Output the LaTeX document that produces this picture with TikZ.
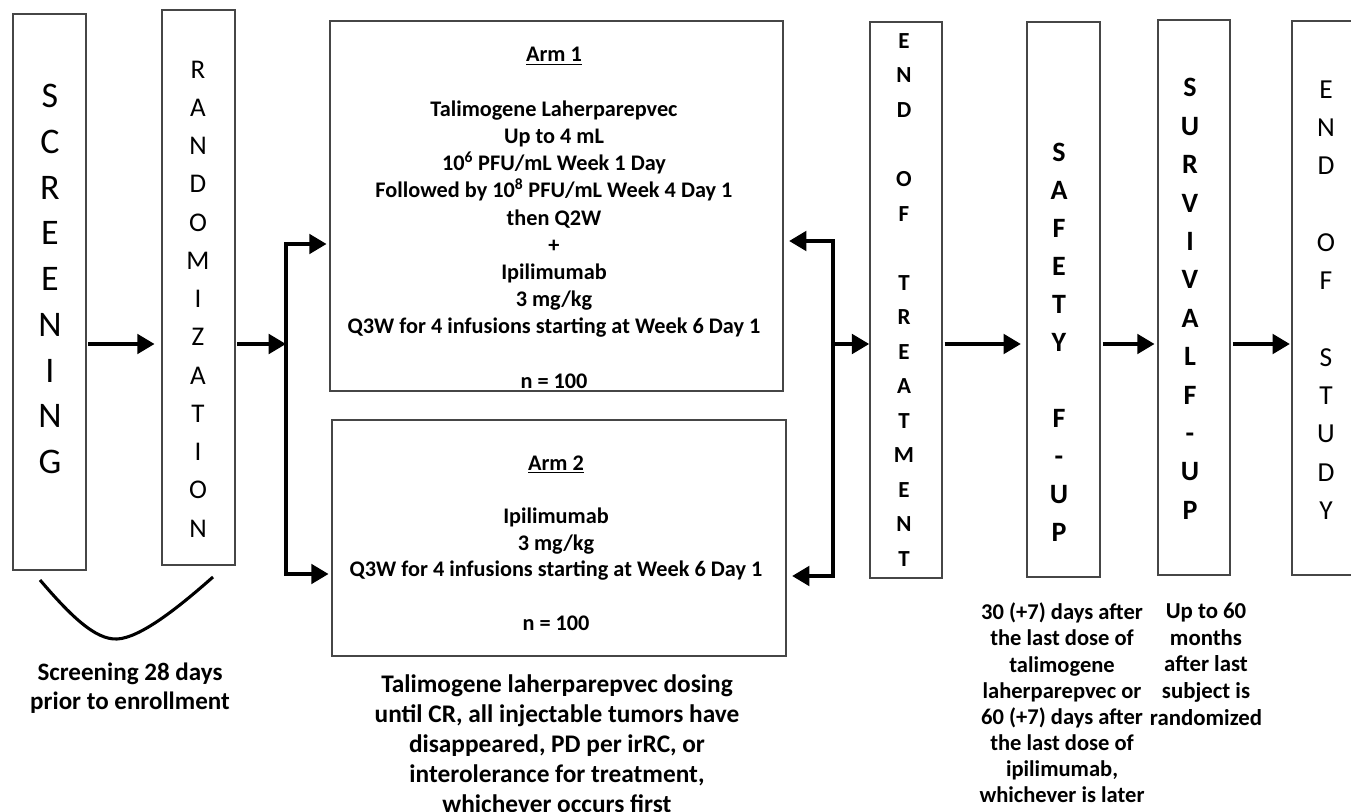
\documentclass[tikz,border=0pt]{standalone}
\usepackage{fontspec}
\setmainfont{Carlito}
\usetikzlibrary{arrows.meta,fit}
\definecolor{boxgray}{RGB}{70,70,70}
\begin{document}
\begin{tikzpicture}[x=0.75pt,y=-0.75pt,
  box/.style={draw=boxgray, line width=1.1pt, inner sep=0pt},
  arr/.style={line width=3pt, line join=miter, -{Triangle[length=13pt,width=14.5pt]}},
  dbl/.style={line width=3pt, line join=miter, {Triangle[length=13pt,width=14.5pt]}-{Triangle[length=13pt,width=14.5pt]}},
  vtxt/.style={align=center, inner sep=0pt},
  btxt/.style={align=center, inner sep=0pt, font=\bfseries}]
\useasboundingbox (0,0) rectangle (1351,812);
\clip (0,0) rectangle (1351,812);
% boxes
\node[box, fit={(13,14) (86,570)}] (scr) {};
\node[box, fit={(162,10) (235,565)}] (rand) {};
\node[box, fit={(330,21) (783,391)}] (arm1) {};
\node[box, fit={(332,420) (786,656)}] (arm2) {};
\node[box, fit={(870,22) (942,578)}] (eot) {};
\node[box, fit={(1027,22) (1100,577)}] (saf) {};
\node[box, fit={(1158,20) (1230,575)}] (sur) {};
\node[box, fit={(1292,21) (1366,575)}] (eos) {};
% vertical words
\node[vtxt, font=\fontsize{27pt}{34.3pt}\selectfont] (scrt) at (50,279) {S\\C\\R\\E\\E\\N\\I\\N\\G};
\node[vtxt, font=\fontsize{20.25pt}{28.7pt}\selectfont] (randt) at (198,299) {R\\A\\N\\D\\O\\M\\I\\Z\\A\\T\\I\\O\\N};
\node[vtxt, font=\fontsize{17.25pt}{25.9pt}\selectfont\bfseries] (eott) at (904,300) {E\\N\\D\\[25.9pt]O\\F\\[25.9pt]T\\R\\E\\A\\T\\M\\E\\N\\T};
\node[vtxt, font=\fontsize{21pt}{28.5pt}\selectfont\bfseries] (saft) at (1059,342) {S\\A\\F\\E\\T\\Y\\[28.5pt]F\\-\\U\\P};
\node[vtxt, font=\fontsize{21pt}{28.8pt}\selectfont\bfseries] (surt) at (1190,299) {S\\U\\R\\V\\I\\V\\A\\L\\F\\-\\U\\P};
\node[vtxt, font=\fontsize{20.6pt}{28.7pt}\selectfont] (eost) at (1326,300) {E\\N\\D\\[28.7pt]O\\F\\[28.7pt]S\\T\\U\\D\\Y};
% arm texts
\node[btxt, font=\fontsize{16.7pt}{20.4pt}\selectfont\bfseries] (arm1t) at (554,218) {\underline{Arm 1}\\[20.4pt]
Talimogene Laherparepvec\\
Up to 4 mL\\
10\textsuperscript{6} PFU/mL Week 1 Day\\
Followed by 10\textsuperscript{8} PFU/mL Week 4 Day 1\\
then Q2W\\
+\\
Ipilimumab\\
3 mg/kg\\
Q3W for 4 infusions starting at Week 6 Day 1\\[20.4pt]
n = 100};
\node[btxt, font=\fontsize{16.7pt}{20pt}\selectfont\bfseries] (arm2t) at (556,543) {\underline{Arm 2}\\[20pt]
Ipilimumab\\
3 mg/kg\\
Q3W for 4 infusions starting at Week 6 Day 1\\[20pt]
n = 100};
% notes
\node[btxt, font=\fontsize{19pt}{22.5pt}\selectfont\bfseries] (note1) at (557,744) {Talimogene laherparepvec dosing\\
until CR, all injectable tumors have\\
disappeared, PD per irRC, or\\
interolerance for treatment,\\
whichever occurs first};
\node[btxt, font=\fontsize{18.8pt}{21.5pt}\selectfont\bfseries] (note0) at (130,688) {Screening 28 days\\prior to enrollment};
\node[btxt, font=\fontsize{16.9pt}{19.6pt}\selectfont\bfseries] (note2) at (1062,703) {30 (+7) days after\\
the last dose of\\
talimogene\\
laherparepvec or\\
60 (+7) days after\\
the last dose of\\
ipilimumab,\\
whichever is later};
\node[btxt, font=\fontsize{17.1pt}{20pt}\selectfont\bfseries] (note3) at (1206,664) {Up to 60\\
months\\
after last\\
subject is\\
randomized};
% connectors
\coordinate (ym) at (0,344);
\coordinate (y1) at (0,244);
\coordinate (y2) at (0,574);
\coordinate (y1r) at (0,241);
\coordinate (y2r) at (0,576);
\coordinate (jL) at (286,344);
\coordinate (jR) at (833,344);
\draw[arr] ([xshift=1pt]scr.east |- ym) -- ([xshift=-5pt]rand.west |- ym);
\draw[arr] ([xshift=1pt]rand.east |- ym) -- (jL);
\draw[dbl] ([xshift=-2pt]arm1.west |- y1) -| (jL) |- ([xshift=-2pt]arm2.west |- y2);
\draw[dbl] ([xshift=4pt]arm1.east |- y1r) -| (jR) |- ([xshift=4pt]arm2.east |- y2r);
\draw[arr] (jR) -- (eot.west |- ym);
\draw[arr] ([xshift=1.5pt]eot.east |- ym) -- ([xshift=-4pt]saf.west |- ym);
\draw[arr] ([xshift=1.5pt]saf.east |- ym) -- ([xshift=-2pt]sur.west |- ym);
\draw[arr] ([xshift=1.5pt]sur.east |- ym) -- ([xshift=-1pt]eos.west |- ym);
% screening period brace
\coordinate (c1) at (40,580);
\coordinate (c2) at (117,639);
\coordinate (c3) at (213,577);
\draw[line width=2.3pt] (c1) .. controls (70,615) and (95,640) .. (c2) .. controls (140,638) and (178,608) .. (c3);
\end{tikzpicture}
\end{document}
